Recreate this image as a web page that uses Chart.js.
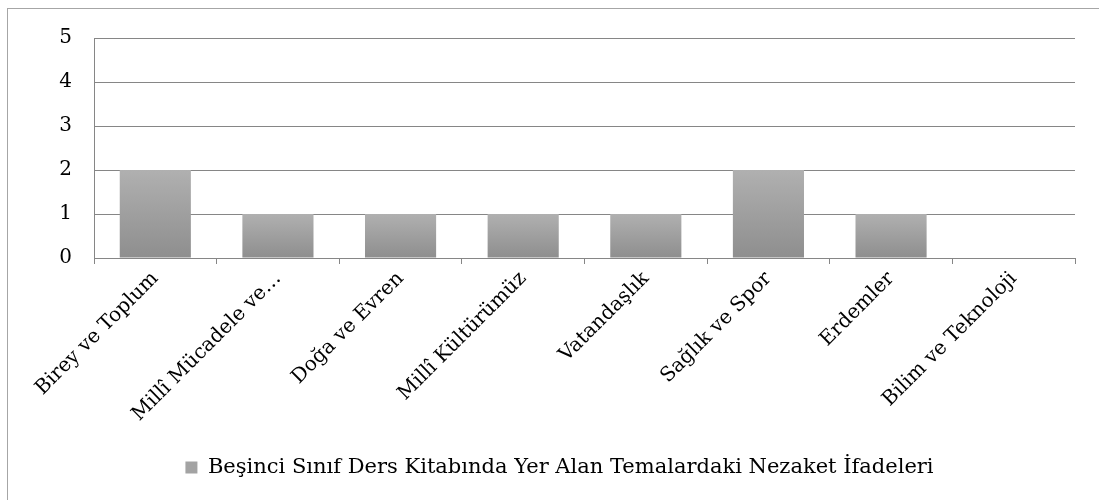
<!DOCTYPE html>
<html>
<head>
<meta charset="utf-8">
<script src="https://cdn.jsdelivr.net/npm/chart.js@4/dist/chart.umd.min.js"></script>
<style>
  html, body { margin: 0; padding: 0; background: #fff; }
  #wrap { position: relative; width: 1099px; height: 500px; }
  #frame { position: absolute; left: 7px; top: 8px; right: -2px; bottom: -2px;
           border-left: 1px solid #a6a6a6; border-top: 1px solid #a6a6a6; pointer-events: none; }
</style>
</head>
<body>
<div id="wrap">
  <canvas id="chart" width="1099" height="500"></canvas>
  <div id="frame"></div>
</div>
<script>
// chart data
const categories = [
  "Birey ve Toplum",
  "Millî Mücadele ve…",
  "Doğa ve Evren",
  "Millî Kültürümüz",
  "Vatandaşlık",
  "Sağlık ve Spor",
  "Erdemler",
  "Bilim ve Teknoloji"
];
const seriesName = "Beşinci Sınıf Ders Kitabında Yer Alan Temalardaki Nezaket İfadeleri";
const seriesValues = [2, 1, 1, 1, 1, 2, 1, 0];
const yTicks = [0, 1, 2, 3, 4, 5];

const FONT = "'DejaVu Serif', 'Liberation Serif', serif";
const GRID = "#868686";

// per-bar vertical gradient, like the Excel fill
function barFill(ctx) {
  const chart = ctx.chart;
  const y = chart.scales.y;
  if (!y || ctx.raw === undefined) return "#a0a0a0";
  const top = y.getPixelForValue(ctx.raw);
  const bottom = y.getPixelForValue(0);
  if (!isFinite(top) || !isFinite(bottom) || top === bottom) return "#a0a0a0";
  const g = chart.ctx.createLinearGradient(0, top, 0, bottom);
  g.addColorStop(0, "#b0b0b0");
  g.addColorStop(1, "#8e8e8e");
  return g;
}

const chart = new Chart(document.getElementById("chart").getContext("2d"), {
  type: "bar",
  data: {
    labels: categories,
    datasets: [{
      label: seriesName,
      data: seriesValues,
      backgroundColor: barFill,
      borderWidth: 0,
      barPercentage: 0.58,
      categoryPercentage: 1.0
    }]
  },
  options: {
    responsive: false,
    animation: false,
    // left padding + y width = 94, so the legend centres like the reference
    layout: { padding: { top: 38, right: 24, left: 44, bottom: 12 } },
    plugins: {
      tooltip: { enabled: false },
      legend: {
        position: "bottom",
        labels: {
          color: "#000",
          font: { family: FONT, size: 21 },
          boxWidth: 12,
          boxHeight: 12,
          padding: 6,
          generateLabels: () => [{
            text: seriesName,
            fillStyle: "#a3a3a3",
            strokeStyle: "#a3a3a3",
            lineWidth: 0,
            datasetIndex: 0
          }]
        }
      }
    },
    scales: {
      x: {
        grid: {
          drawOnChartArea: false,
          drawTicks: true,
          tickLength: 6,
          color: GRID,
          offset: true
        },
        border: { color: GRID, width: 1 },
        ticks: {
          color: "#000",
          font: { family: FONT, size: 20 },
          minRotation: 45,
          maxRotation: 45,
          autoSkip: false,
          padding: 3
        },
        afterFit: (s) => { s.height = 193; }
      },
      y: {
        min: 0,
        max: 5,
        afterBuildTicks: (s) => { s.ticks = yTicks.map(v => ({ value: v })); },
        grid: { color: GRID, drawTicks: false, lineWidth: 1 },
        border: { color: GRID, width: 1 },
        ticks: {
          color: "#000",
          font: { family: FONT, size: 20 },
          padding: 22
        },
        afterFit: (s) => { s.width = 50; }
      }
    }
  }
});
</script>
</body>
</html>
